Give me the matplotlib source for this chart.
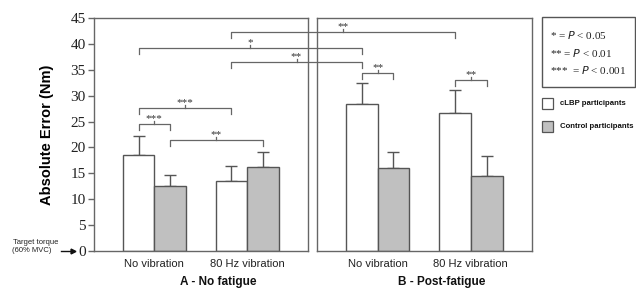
import numpy as np
import matplotlib.pyplot as plt
from matplotlib.lines import Line2D
from matplotlib.patches import Rectangle

# data
groups = ["No vibration", "80 Hz vibration"]
clbp_nofatigue = [18.5, 13.5]
clbp_nofatigue_err = [3.8, 3.0]
control_nofatigue = [12.5, 16.2]
control_nofatigue_err = [2.1, 2.9]
clbp_post = [28.4, 26.7]
clbp_post_err = [4.0, 4.4]
control_post = [16.1, 14.5]
control_post_err = [3.1, 3.8]
yticks = [0, 5, 10, 15, 20, 25, 30, 35, 40, 45]

EDGE = '#555555'
GREY = '#c0c0c0'
W = 0.34

fig = plt.figure(figsize=(6.36, 2.89), dpi=100)
axA = fig.add_axes([94/636, 1-251/289, 214/636, 233/289])
axB = fig.add_axes([317/636, 1-251/289, 215/636, 233/289])


def draw_panel(ax, white, white_err, grey, grey_err, title):
    x = np.arange(len(groups))
    ax.bar(x - W/2, white, W, color='white', edgecolor=EDGE, linewidth=1, zorder=2)
    ax.bar(x + W/2, grey, W, color=GREY, edgecolor=EDGE, linewidth=1, zorder=2)
    ax.errorbar(x - W/2, white, yerr=[np.zeros(len(white)), white_err], fmt='none',
                ecolor=EDGE, elinewidth=1, capsize=4, capthick=1, zorder=1)
    ax.errorbar(x + W/2, grey, yerr=[np.zeros(len(grey)), grey_err], fmt='none',
                ecolor=EDGE, elinewidth=1, capsize=4, capthick=1, zorder=1)
    ax.set_xlim(-0.65, 1.656)
    ax.set_ylim(0, 45)
    ax.set_xticks(x)
    ax.set_xticklabels(groups, fontsize=8, family='Liberation Sans', color='#222222')
    ax.tick_params(axis='x', length=0, pad=6)
    for s in ax.spines.values():
        s.set_color('#666666')
        s.set_linewidth(1)
    ax.text(0.58, -0.135, title, transform=ax.transAxes, ha='center', va='center',
            fontsize=8.5, fontweight='bold', family='Liberation Sans', color='#111111')


draw_panel(axA, clbp_nofatigue, clbp_nofatigue_err, control_nofatigue,
           control_nofatigue_err, "A - No fatigue")
draw_panel(axB, clbp_post, clbp_post_err, control_post, control_post_err,
           "B - Post-fatigue")

axA.set_yticks(yticks)
axA.set_yticklabels([str(v) for v in yticks], fontsize=11, family='Liberation Serif',
                    color='#222222')
axA.tick_params(axis='y', length=4, width=1, color='#666666', pad=2)
axB.set_yticks([])
axA.set_ylabel("Absolute Error (Nm)", fontsize=10.5, fontweight='bold',
               family='Liberation Sans', labelpad=12)


def to_fig(ax, x, y):
    p = ax.transData.transform((x, y))
    return fig.transFigure.inverted().transform(p)


def bracket(ax1, x1, ax2, x2, y, label, drop=1.1, up=0.6):
    a0 = to_fig(ax1, x1, y - drop)
    a1 = to_fig(ax1, x1, y)
    b1 = to_fig(ax2, x2, y)
    b0 = to_fig(ax2, x2, y - drop)
    xs = [a0[0], a1[0], b1[0], b0[0]]
    ys = [a0[1], a1[1], b1[1], b0[1]]
    fig.add_artist(Line2D(xs, ys, color='#666666', lw=0.9))
    cx = (a1[0] + b1[0]) / 2
    c_top = to_fig(ax1, 0, y + up)[1]
    fig.add_artist(Line2D([cx, cx], [a1[1], c_top], color='#666666', lw=0.9))
    fig.text(cx, c_top - 0.008, label, ha='center', va='bottom', fontsize=8,
             family='Liberation Serif', color='#333333')


wl, gl = -W/2, W/2
bracket(axA, 0 + wl, axA, 0 + gl, 24.5, "***")
bracket(axA, 0 + wl, axA, 1 + wl, 27.6, "***")
bracket(axA, 0 + gl, axA, 1 + gl, 21.4, "**")
bracket(axA, 0 + wl, axB, 0 + wl, 39.2, "*")
bracket(axA, 1 + wl, axB, 1 + wl, 42.3, "**")
bracket(axA, 1 + wl, axB, 0 + wl, 36.5, "**")
bracket(axB, 0 + wl, axB, 0 + gl, 34.3, "**")
bracket(axB, 1 + wl, axB, 1 + gl, 33.0, "**")

# significance key box
fig.add_artist(Rectangle((542/636, 1-87/289), 93/636, 70/289, transform=fig.transFigure,
                         fill=False, edgecolor='#555555', lw=1))
key_lines = [("*", "0.05", 35), ("**", "0.01", 53), ("***", "0.001", 70)]
for stars, pval, ypx in key_lines:
    sep = " = " if stars != "***" else "  = "
    fig.text(550/636, 1-ypx/289, stars + sep + r"$P$ < " + pval, ha='left', va='center',
             fontsize=8, family='Liberation Serif', color='#222222')

# group legend
for ypx, col, lab in [(98, 'white', "cLBP participants"), (121, GREY, "Control participants")]:
    fig.add_artist(Rectangle((542/636, 1-(ypx+11)/289), 11/636, 11/289,
                             transform=fig.transFigure, facecolor=col,
                             edgecolor='#555555', lw=0.9))
    fig.text(560/636, 1-(ypx+5.5)/289, lab, ha='left', va='center', fontsize=5.6,
             fontweight='bold', family='Liberation Sans', color='#111111')

# target torque annotation
fig.text(36/636, 1-243/289, "Target torque", ha='center', va='center', fontsize=5.5,
         family='Liberation Sans', color='#222222')
fig.text(32/636, 1-251/289, "(60% MVC)", ha='center', va='center', fontsize=5.5,
         family='Liberation Sans', color='#222222')
fig.add_artist(Line2D([61/636, 73/636], [1-251/289, 1-251/289], color='#111111', lw=1,
                      marker='>', markevery=[1], markersize=3.5))

fig.savefig("out.png", dpi=100)
